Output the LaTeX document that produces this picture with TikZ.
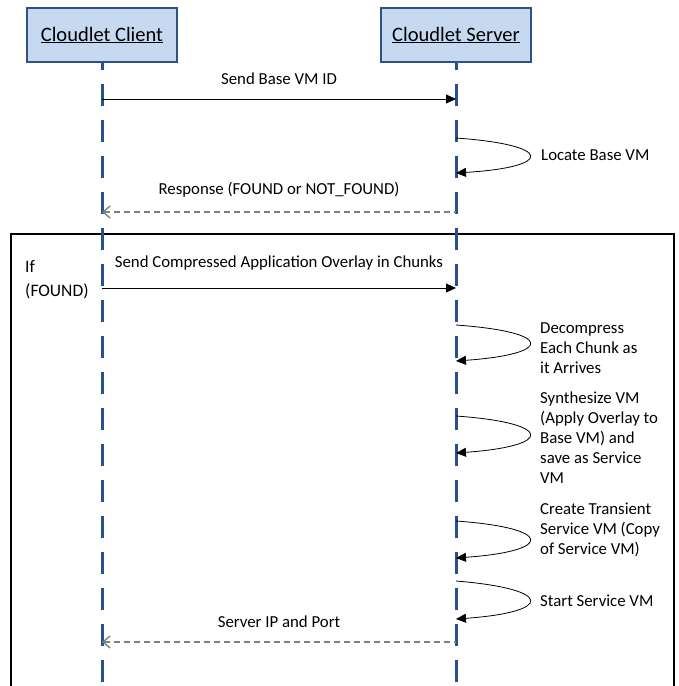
\documentclass[tikz,border=0pt]{standalone}
\usepackage{fontspec}
\setmainfont{Carlito}
\usetikzlibrary{arrows.meta}
\definecolor{boxfill}{HTML}{C6D9F1}
\definecolor{boxline}{HTML}{2F5286}
\definecolor{lifeline}{HTML}{2A4F8F}
\tikzset{
  font={\fontsize{16.8}{20}\selectfont},
  actor/.style={draw=boxline, line width=2.4pt, fill=boxfill, minimum width=150pt,
    minimum height=54pt, inner sep=0pt, font={\fontsize{20.5}{24}\selectfont}},
  lifeline/.style={draw=lifeline, line width=3pt, dash pattern=on 22pt off 14pt, dash phase=15pt},
  call/.style={-{Triangle[length=10pt,width=9pt]}, line width=0.8pt},
  answer/.style={{Straight Barb[length=7pt,width=12pt]}-, draw=gray, line width=1.4pt, dash pattern=on 6pt off 4pt},
  selfcall/.style={-{Triangle[length=10pt,width=9pt]}, line width=0.8pt},
  note/.style={anchor=west, align=left, inner sep=0pt}}
\begin{document}
\begin{tikzpicture}[x=1pt,y=-1pt]
\useasboundingbox (0,0) rectangle (678,686);
% frame of the if block
\draw [line width=1.2pt] (11,686) -- (11,234) -- (674,234) -- (674,686);
\node [anchor=west, inner sep=0pt, align=left, font={\fontsize{17.5}{24}\selectfont}] (cond) at (25,280) {If\\(FOUND)};
% the two actors
\node [actor] (client) at (102,35) {\underline{Cloudlet Client}};
\node [actor] (server) at (456,35) {\underline{Cloudlet Server}};
\draw [lifeline] (client.south) -- (102,686);
\draw [lifeline] (server.south) -- (456,686);
% points on the life lines
\coordinate (c1) at (102,99);  \coordinate (s1) at (456,99);
\coordinate (s2) at (456,138); \coordinate (s3) at (456,173);
\coordinate (c4) at (102,212); \coordinate (s4) at (456,212);
\coordinate (c5) at (102,288); \coordinate (s5) at (456,288);
\coordinate (s6) at (456,325); \coordinate (s7) at (456,361);
\coordinate (s8) at (456,416); \coordinate (s9) at (456,453);
\coordinate (s10) at (456,521); \coordinate (s11) at (456,558);
\coordinate (s12) at (456,581); \coordinate (s13) at (456,619);
\coordinate (c14) at (102,642); \coordinate (s14) at (456,642);
% messages
\draw [call] (c1) -- (s1) node [midway, above=14pt, inner sep=0pt] (m1) {Send Base VM ID};
\draw [selfcall] (s2) .. controls (554,145) and (554,167) .. (s3);
\node [note] (m2) at (541,155) {Locate Base VM};
\draw [answer] (c4) -- (s4) node [midway, above=14pt, inner sep=0pt] (m3) {Response (FOUND or NOT\_FOUND)};
\draw [call] (c5) -- (s5) node [midway, above=17pt, inner sep=0pt] (m4) {Send Compressed Application Overlay in Chunks};
\draw [selfcall] (s6) .. controls (554,332) and (554,354) .. (s7);
\node [note] (m5) at (540,348) {Decompress\\Each Chunk as\\it Arrives};
\draw [selfcall] (s8) .. controls (554,423) and (554,446) .. (s9);
\node [note] (m6) at (540,438) {Synthesize VM\\(Apply Overlay to\\Base VM) and\\save as Service\\VM};
\draw [selfcall] (s10) .. controls (554,528) and (554,551) .. (s11);
\node [note] (m7) at (540,530) {Create Transient\\Service VM (Copy\\of Service VM)};
\draw [selfcall] (s12) .. controls (554,589) and (554,612) .. (s13);
\node [note] (m8) at (540,601) {Start Service VM};
\draw [answer] (c14) -- (s14) node [midway, above=14pt, inner sep=0pt] (m9) {Server IP and Port};
\end{tikzpicture}
\end{document}
